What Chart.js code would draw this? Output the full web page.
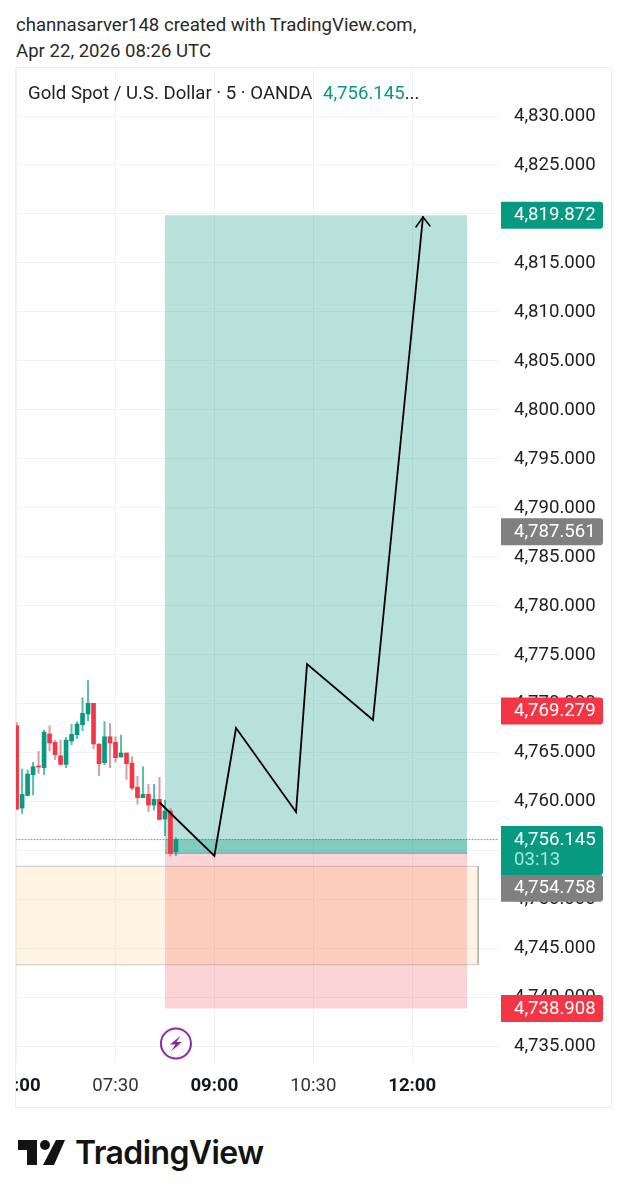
<!DOCTYPE html>
<html>
<head>
<meta charset="utf-8">
<script src="https://cdn.jsdelivr.net/npm/chart.js@4/dist/chart.umd.min.js"></script>
<style>
  html, body { margin: 0; background: #fff; font-family: Roboto, sans-serif; }
  .abs { position: absolute; white-space: nowrap; }
  #wrap { position: absolute; left: 16px; top: 68px; width: 595px; height: 1039px; outline: 1px solid #eeeeee; }
  canvas { display: block; }
</style>
</head>
<body>
<div class="abs" style="left:16px;top:14px;font-size:18.6px;line-height:22px;color:#2a2a2a">channasarver148 created with TradingView.com,</div>
<div class="abs" style="left:16px;top:40px;font-size:18.6px;line-height:22px;color:#2a2a2a">Apr 22, 2026 08:26 UTC</div>
<div id="wrap"><canvas id="chart" width="595" height="1039"></canvas></div>
<div class="abs" style="left:28px;top:82px;font-size:18.6px;line-height:22px;color:#222">Gold Spot / U.S. Dollar · 5 · OANDA</div>
<div class="abs" style="left:323px;top:82px;font-size:18.6px;line-height:22px;color:#089981">4,756.145<span style="color:#222">...</span></div>
<svg class="abs" style="left:18px;top:1140px" width="48" height="26" viewBox="0 0 48 26">
  <path d="M0 0H19V25H9V10H0Z M38 0H47L36 25H25Z" fill="#131313"/>
  <circle cx="27" cy="5" r="5" fill="#131313"/>
</svg>
<div class="abs" style="left:75px;top:1132px;font-family:Inter,sans-serif;font-weight:600;font-size:32px;line-height:42px;letter-spacing:-0.6px;color:#131313">TradingView</div>

<script>
const barTimes = [360, 365, 370, 375, 380, 385, 390, 395, 400, 405, 410, 415, 420, 425, 430, 435, 440, 445, 450, 455, 460, 465, 470, 475, 480, 485, 490, 495, 500, 505];
const barOpen = [4767.77, 4759.36, 4760.65, 4762.76, 4763.65, 4763.48, 4766.92, 4766.07, 4764.70, 4763.82, 4766.20, 4766.85, 4767.87, 4768.96, 4770.05, 4765.90, 4763.99, 4766.64, 4766.07, 4764.57, 4764.98, 4763.95, 4761.50, 4760.42, 4760.76, 4759.67, 4760.25, 4758.24, 4759.06, 4754.90];
const barClose = [4759.26, 4760.76, 4762.83, 4763.58, 4763.55, 4767.12, 4766.00, 4764.81, 4763.82, 4766.30, 4766.88, 4767.94, 4769.03, 4770.05, 4765.90, 4763.89, 4766.64, 4766.00, 4764.50, 4764.98, 4763.89, 4761.40, 4760.42, 4760.76, 4759.67, 4760.25, 4758.20, 4759.06, 4754.73, 4756.145];
const barHigh = [4768.11, 4763.34, 4763.24, 4764.02, 4765.15, 4767.32, 4767.77, 4766.30, 4766.30, 4766.58, 4767.90, 4768.17, 4770.62, 4772.39, 4770.05, 4765.90, 4768.17, 4768.00, 4766.64, 4766.81, 4764.98, 4764.60, 4762.59, 4763.58, 4761.78, 4761.78, 4762.49, 4760.18, 4759.33, 4756.33];
const barLow = [4759.19, 4758.82, 4760.59, 4760.69, 4762.90, 4762.76, 4765.18, 4764.33, 4763.75, 4763.48, 4765.83, 4766.44, 4767.26, 4768.26, 4765.42, 4762.66, 4763.78, 4763.48, 4764.06, 4764.57, 4762.29, 4761.20, 4759.77, 4760.42, 4758.99, 4759.16, 4758.14, 4756.54, 4754.46, 4754.53];

const arrowLineTimes = [490.5, 540, 559.7, 614.3, 624.3, 684.3, 729.8];
const arrowLinePrices = [4759.88, 4754.47, 4767.53, 4758.96, 4774.06, 4768.35, 4819.69];
const arrowHeadTimes = [723.4, 729.8, 736.2];
const arrowHeadPrices = [4818.67, 4819.69, 4818.77];

const priceTicks = [4830, 4825, 4820, 4815, 4810, 4805, 4800, 4795, 4790, 4785, 4780, 4775, 4770, 4765, 4760, 4755, 4750, 4745, 4740, 4735];
const timeTicks = [360, 450, 540, 630, 720];
const timeLabels = ["06:00", "07:30", "09:00", "10:30", "12:00"];
const boldTimes = [360, 540, 720];

const targetPrice = 4819.872, stopPrice = 4738.908, entryPrice = 4754.758;
const lastPrice = 4756.145, gapPrice = 4787.561, riskPrice = 4769.279;
const positionStart = 495, positionEnd = 770;
const boxEnd = 780, boxTop = 4753.42, boxBottom = 4743.37;

const xMin = 359.45, xMax = 799, yMin = 4733.34, yMax = 4834.9;
const GREEN = "#089981", RED = "#f23645", GREY = "#808080";

const fmt = (v) => v.toLocaleString("en-US", { minimumFractionDigits: 3, maximumFractionDigits: 3 });
const isBold = (c) => !!c.tick && boldTimes.includes(c.tick.value);

function zone(x0, x1, top, bottom, color, order) {
  return {
    type: "line", data: [{ x: x0, y: top }, { x: x1, y: top }],
    fill: { value: bottom }, backgroundColor: color, borderWidth: 0, pointRadius: 0, order,
  };
}

function polyline(xs, ys, color, width, order, dash) {
  return {
    type: "line", data: xs.map((x, i) => ({ x, y: ys[i] })), fill: false,
    borderColor: color, borderWidth: width, borderDash: dash || [], pointRadius: 0, tension: 0,
    borderCapStyle: "round", borderJoinStyle: "miter", order,
  };
}

// price badges on the axis, lightning mark on the last bar
const overlay = {
  id: "overlay",
  afterDraw(chart) {
    const { ctx, scales: { x, y }, chartArea } = chart;
    const badge = (value, color, shift = 0, extra = 0) => {
      const cy = y.getPixelForValue(value) + shift;
      ctx.fillStyle = color;
      ctx.beginPath();
      ctx.roundRect(485, cy - 13.5, 102, 27 + extra, [0, 3, 3, 0]);
      ctx.fill();
      ctx.fillStyle = "#fff";
      ctx.font = "18.6px Roboto";
      ctx.textBaseline = "middle";
      ctx.textAlign = "left";
      ctx.fillText(fmt(value), 498, cy + 0.5);
    };
    badge(targetPrice, GREEN);
    badge(gapPrice, GREY);
    badge(riskPrice, RED);
    badge(entryPrice, GREY, 35);
    badge(lastPrice, GREEN, 0, 22);
    ctx.fillStyle = "#a6e6d8";
    ctx.fillText("03:13", 498, y.getPixelForValue(lastPrice) + 21);
    badge(stopPrice, RED);

    const ix = x.getPixelForValue(barTimes[barTimes.length - 1]);
    const iy = chartArea.bottom - 19.5;
    ctx.strokeStyle = "#8e24aa";
    ctx.lineWidth = 2;
    ctx.fillStyle = "#fff";
    ctx.beginPath();
    ctx.arc(ix, iy, 15, 0, Math.PI * 2);
    ctx.fill();
    ctx.stroke();
    ctx.fillStyle = "#8e24aa";
    ctx.beginPath();
    ctx.moveTo(ix + 5, iy - 8);
    ctx.lineTo(ix - 6, iy + 1);
    ctx.lineTo(ix - 0.5, iy + 1);
    ctx.lineTo(ix - 5, iy + 8);
    ctx.lineTo(ix + 6, iy - 1.5);
    ctx.lineTo(ix + 0.5, iy - 1.5);
    ctx.closePath();
    ctx.fill();
  },
};

const up = barOpen.map((open, i) => barClose[i] >= open);

new Chart(document.getElementById("chart"), {
  data: {
    datasets: [
      zone(positionStart, positionEnd, targetPrice, entryPrice, "rgba(8,153,129,0.29)", 10),
      zone(positionStart, positionEnd, lastPrice, entryPrice, "rgba(8,153,129,0.3)", 9),
      zone(positionStart, positionEnd, entryPrice, stopPrice, "rgba(242,54,69,0.22)", 8),
      zone(xMin, boxEnd, boxTop, boxBottom, "rgba(255,152,0,0.11)", 7),
      polyline([xMin, boxEnd, boxEnd, xMin], [boxTop, boxTop, boxBottom, boxBottom], "rgba(150,145,135,0.6)", 0.8, 6),
      polyline([positionStart, positionEnd], [entryPrice, entryPrice], "#7f9c96", 1, 5),
      polyline([xMin, xMax], [lastPrice, lastPrice], "rgba(8,120,105,0.8)", 0.8, 5, [1, 2]),
      {
        type: "bar", grouped: false, order: 4, barThickness: 1.4, borderWidth: 0,
        data: barTimes.map((x, i) => ({ x, y: [barLow[i], barHigh[i]] })),
        backgroundColor: up.map((u) => (u ? "rgba(8,153,129,0.65)" : "rgba(200,90,100,0.6)")),
      },
      {
        type: "bar", grouped: false, order: 3, barThickness: 4, minBarLength: 1, borderWidth: 0,
        data: barTimes.map((x, i) => ({ x, y: [barOpen[i], barClose[i]] })),
        backgroundColor: up.map((u) => (u ? GREEN : RED)),
      },
      polyline(arrowLineTimes, arrowLinePrices, "#000", 1.8, 1),
      polyline(arrowHeadTimes, arrowHeadPrices, "#000", 1.5, 1),
    ],
  },
  options: {
    responsive: false,
    animation: false,
    layout: { padding: 0 },
    plugins: { legend: { display: false }, tooltip: { enabled: false } },
    scales: {
      x: {
        type: "linear", min: xMin, max: xMax, offset: false,
        afterBuildTicks: (s) => { s.ticks = timeTicks.map((value) => ({ value })); },
        afterFit: (s) => { s.height = 44; s.paddingLeft = 0; s.paddingRight = 0; },
        grid: { color: "#f1f2f4", drawTicks: false, offset: false },
        border: { display: false },
        ticks: {
          autoSkip: false, maxRotation: 0, padding: 12, color: (c) => (isBold(c) ? "#131722" : "#333"),
          font: (c) => ({ family: "Roboto", size: 18.6, weight: isBold(c) ? "bold" : "normal" }),
          callback: (value) => timeLabels[timeTicks.indexOf(value)],
        },
      },
      y: {
        type: "linear", position: "right", min: yMin, max: yMax,
        afterBuildTicks: (s) => { s.ticks = priceTicks.map((value) => ({ value })); },
        afterFit: (s) => { s.width = 112; s.paddingTop = 0; s.paddingBottom = 0; },
        grid: { color: "#f1f2f4", drawTicks: false },
        border: { display: false },
        ticks: {
          autoSkip: false, padding: 15, color: "#222", font: { family: "Roboto", size: 18.6 },
          callback: (value) => fmt(value),
        },
      },
    },
  },
  plugins: [overlay],
});
</script>
</body>
</html>
